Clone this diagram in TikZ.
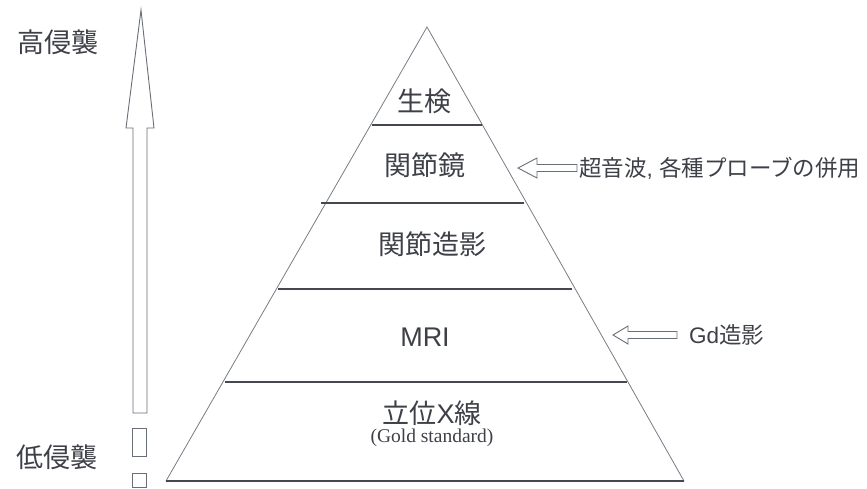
\documentclass[tikz,border=0pt]{standalone}
\usepackage{fontspec}
\setmainfont{Liberation Sans}
\newfontfamily\cjk{Noto Sans CJK JP}
\newfontfamily\gserif{Liberation Serif}
\definecolor{txt}{RGB}{62,64,72}
\definecolor{hline}{RGB}{70,72,80}
\definecolor{edge}{RGB}{120,124,132}
\definecolor{outl}{RGB}{105,110,120}
\begin{document}
\begin{tikzpicture}[x=1pt,y=-1pt,
  lvl/.style={font=\cjk\fontsize{27}{30}\selectfont, text=txt, inner sep=0pt},
  side/.style={font=\cjk\fontsize{22.5}{24}\selectfont, text=txt, inner sep=0pt, anchor=west},
  tier/.style={draw=hline, line width=1.6pt},
  pedge/.style={draw=edge, line width=0.8pt},
  hollow/.style={draw=outl, line width=0.9pt, fill=white, line join=miter}]
\useasboundingbox (0,0) rectangle (867,488);
% pyramid
\coordinate (apex) at (427,27);
\coordinate (bl) at (166,481);
\coordinate (br) at (684,481);
\draw[pedge] (bl) -- (apex) -- (br);
\draw[tier] (bl) -- (br);
\draw[tier] (372,125) -- (482,125);
\draw[tier] (321,203) -- (524,203);
\draw[tier] (278,289) -- (572,289);
\draw[tier] (225,382) -- (627,382);
% tier labels
\node[lvl] (seiken) at (424,101) {生検};
\node[lvl] (kansetsukyo) at (425,165) {関節鏡};
\node[lvl] (zoei) at (432,244) {関節造影};
\node[lvl, font=\rmfamily\fontsize{27}{30}\selectfont] (mri) at (425,337) {MRI};
\node[lvl] (xsen) at (432,413) {立位{\rmfamily\fontsize{27}{30}\selectfont X}線};
\node[inner sep=0pt, text=txt, font=\gserif\fontsize{19.5}{22}\selectfont] (gold) at (432,438) {(Gold standard)};
% left scale arrow
\draw[hollow] (141,10) -- (154,128) -- (147,128) -- (147,413) -- (133,413) -- (133,128) -- (126,128) -- cycle;
\draw[hollow] (132,428) rectangle (146,456);
\draw[hollow] (132,473) rectangle (146,487);
\node[lvl] (high) at (58,42) {高侵襲};
\node[lvl] (low) at (57,457) {低侵襲};
% side notes
\node[side] (note1) at (579,168) {超音波{\rmfamily,\ }各種プローブの併用};
\node[side] (note2) at (689,335) {{\rmfamily Gd}造影};
\draw[hollow] (518,168) -- (537,158) -- (537,164.5) -- (577,164.5) -- (577,171.5) -- (537,171.5) -- (537,178) -- cycle;
\draw[hollow] (613,335) -- (628,326) -- (628,331.5) -- (677,331.5) -- (677,338.5) -- (628,338.5) -- (628,344) -- cycle;
\end{tikzpicture}
\end{document}
